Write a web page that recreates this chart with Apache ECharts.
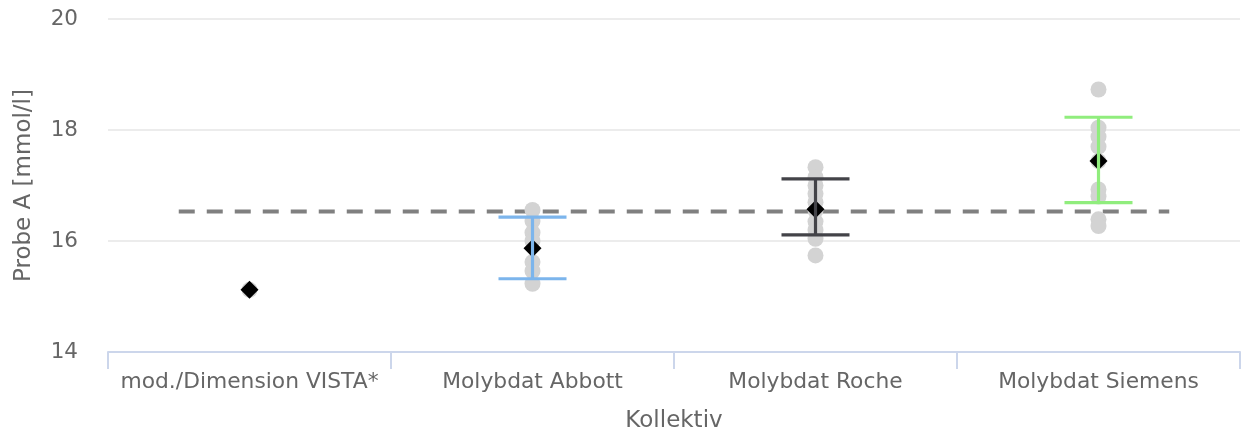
<!DOCTYPE html>
<html>
<head>
<meta charset="utf-8">
<script src="https://cdn.jsdelivr.net/npm/echarts@6/dist/echarts.min.js"></script>
<style>html,body{margin:0;padding:0;background:#fff}#c{width:1241px;height:438px}</style>
</head>
<body>
<div id="c"></div>
<script>
const categories = ['mod./Dimension VISTA*', 'Molybdat Abbott', 'Molybdat Roche', 'Molybdat Siemens'];
const yTicks = [14, 16, 18, 20];
const referenceValue = 16.53;
const pointsVista = [15.12];
const pointsAbbott = [16.56, 16.36, 16.15, 16.0, 15.62, 15.46, 15.23];
const pointsRoche = [17.33, 17.15, 17.0, 16.85, 16.7, 16.55, 16.35, 16.2, 16.04, 15.74];
const pointsSiemens = [18.73, 18.04, 17.88, 17.7, 17.44, 16.93, 16.8, 16.39, 16.27];
const means = [15.12, 15.87, 16.57, 17.44];
const errLow = [null, 15.32, 16.11, 16.69];
const errHigh = [null, 16.43, 17.12, 18.23];
const errColors = ['#f7a35c', '#7cb5ec', '#434348', '#90ed7d'];

const allPoints = [pointsVista, pointsAbbott, pointsRoche, pointsSiemens];
const scatterData = [];
allPoints.forEach((arr, i) => arr.forEach(v => scatterData.push([i, v])));
const meanData = means.map((v, i) => [i, v]);
const errData = [];
errLow.forEach((lo, i) => { if (lo !== null) errData.push([i, lo, errHigh[i]]); });

const FONT = 'DejaVu Sans';
const chart = echarts.init(document.getElementById('c'), null, {renderer: 'canvas'});
chart.setOption({
  animation: false,
  backgroundColor: '#ffffff',
  grid: {left: 108, right: 1, top: 19, bottom: 84, containLabel: false},
  xAxis: [{
    type: 'category',
    data: categories,
    boundaryGap: true,
    name: 'Kollektiv',
    nameLocation: 'middle',
    nameGap: 58,
    nameTextStyle: {fontFamily: FONT, fontSize: 23, color: '#666666'},
    axisLine: {lineStyle: {color: '#ccd6eb', width: 2}},
    axisTick: {show: true, length: 17, alignWithLabel: false, lineStyle: {color: '#ccd6eb', width: 2}},
    axisLabel: {fontFamily: FONT, fontSize: 21.8, color: '#666666', margin: 19, interval: 0},
    splitLine: {show: false}
  }, {
    type: 'value',
    min: -0.5, max: 3.5,
    show: false
  }],
  yAxis: {
    type: 'value',
    min: yTicks[0], max: yTicks[yTicks.length - 1], interval: 2,
    name: 'Probe A [mmol/l]',
    nameLocation: 'middle',
    nameGap: 72,
    nameTextStyle: {fontFamily: FONT, fontSize: 23, color: '#666666'},
    axisLine: {show: false},
    axisTick: {show: false},
    axisLabel: {fontFamily: FONT, fontSize: 21.5, color: '#666666', margin: 30},
    splitLine: {lineStyle: {color: '#e6e6e6', width: 1.6}}
  },
  series: [
    {
      type: 'line',
      xAxisIndex: 1,
      data: [[-0.25, referenceValue], [3.25, referenceValue]],
      symbol: 'none',
      lineStyle: {color: '#808080', width: 4, type: [16, 12]},
      z: 1
    },
    {
      type: 'scatter',
      xAxisIndex: 0,
      data: scatterData,
      symbol: 'circle',
      symbolSize: 16,
      itemStyle: {color: '#d3d3d3', opacity: 1},
      z: 2
    },
    {
      type: 'scatter',
      xAxisIndex: 0,
      data: meanData,
      symbol: 'diamond',
      symbolSize: 18,
      itemStyle: {color: '#000000', opacity: 1},
      z: 3
    },
    {
      type: 'custom',
      xAxisIndex: 0,
      data: errData,
      z: 4,
      renderItem: function (params, api) {
        const idx = api.value(0);
        const lo = api.coord([idx, api.value(1)]);
        const hi = api.coord([idx, api.value(2)]);
        const hw = 34;
        const style = {stroke: errColors[idx], lineWidth: 3.2, fill: null};
        return {
          type: 'group',
          children: [
            {type: 'line', shape: {x1: lo[0], y1: lo[1], x2: hi[0], y2: hi[1]}, style: style},
            {type: 'line', shape: {x1: lo[0] - hw, y1: lo[1], x2: lo[0] + hw, y2: lo[1]}, style: style},
            {type: 'line', shape: {x1: hi[0] - hw, y1: hi[1], x2: hi[0] + hw, y2: hi[1]}, style: style}
          ]
        };
      }
    }
  ]
});
</script>
</body>
</html>
